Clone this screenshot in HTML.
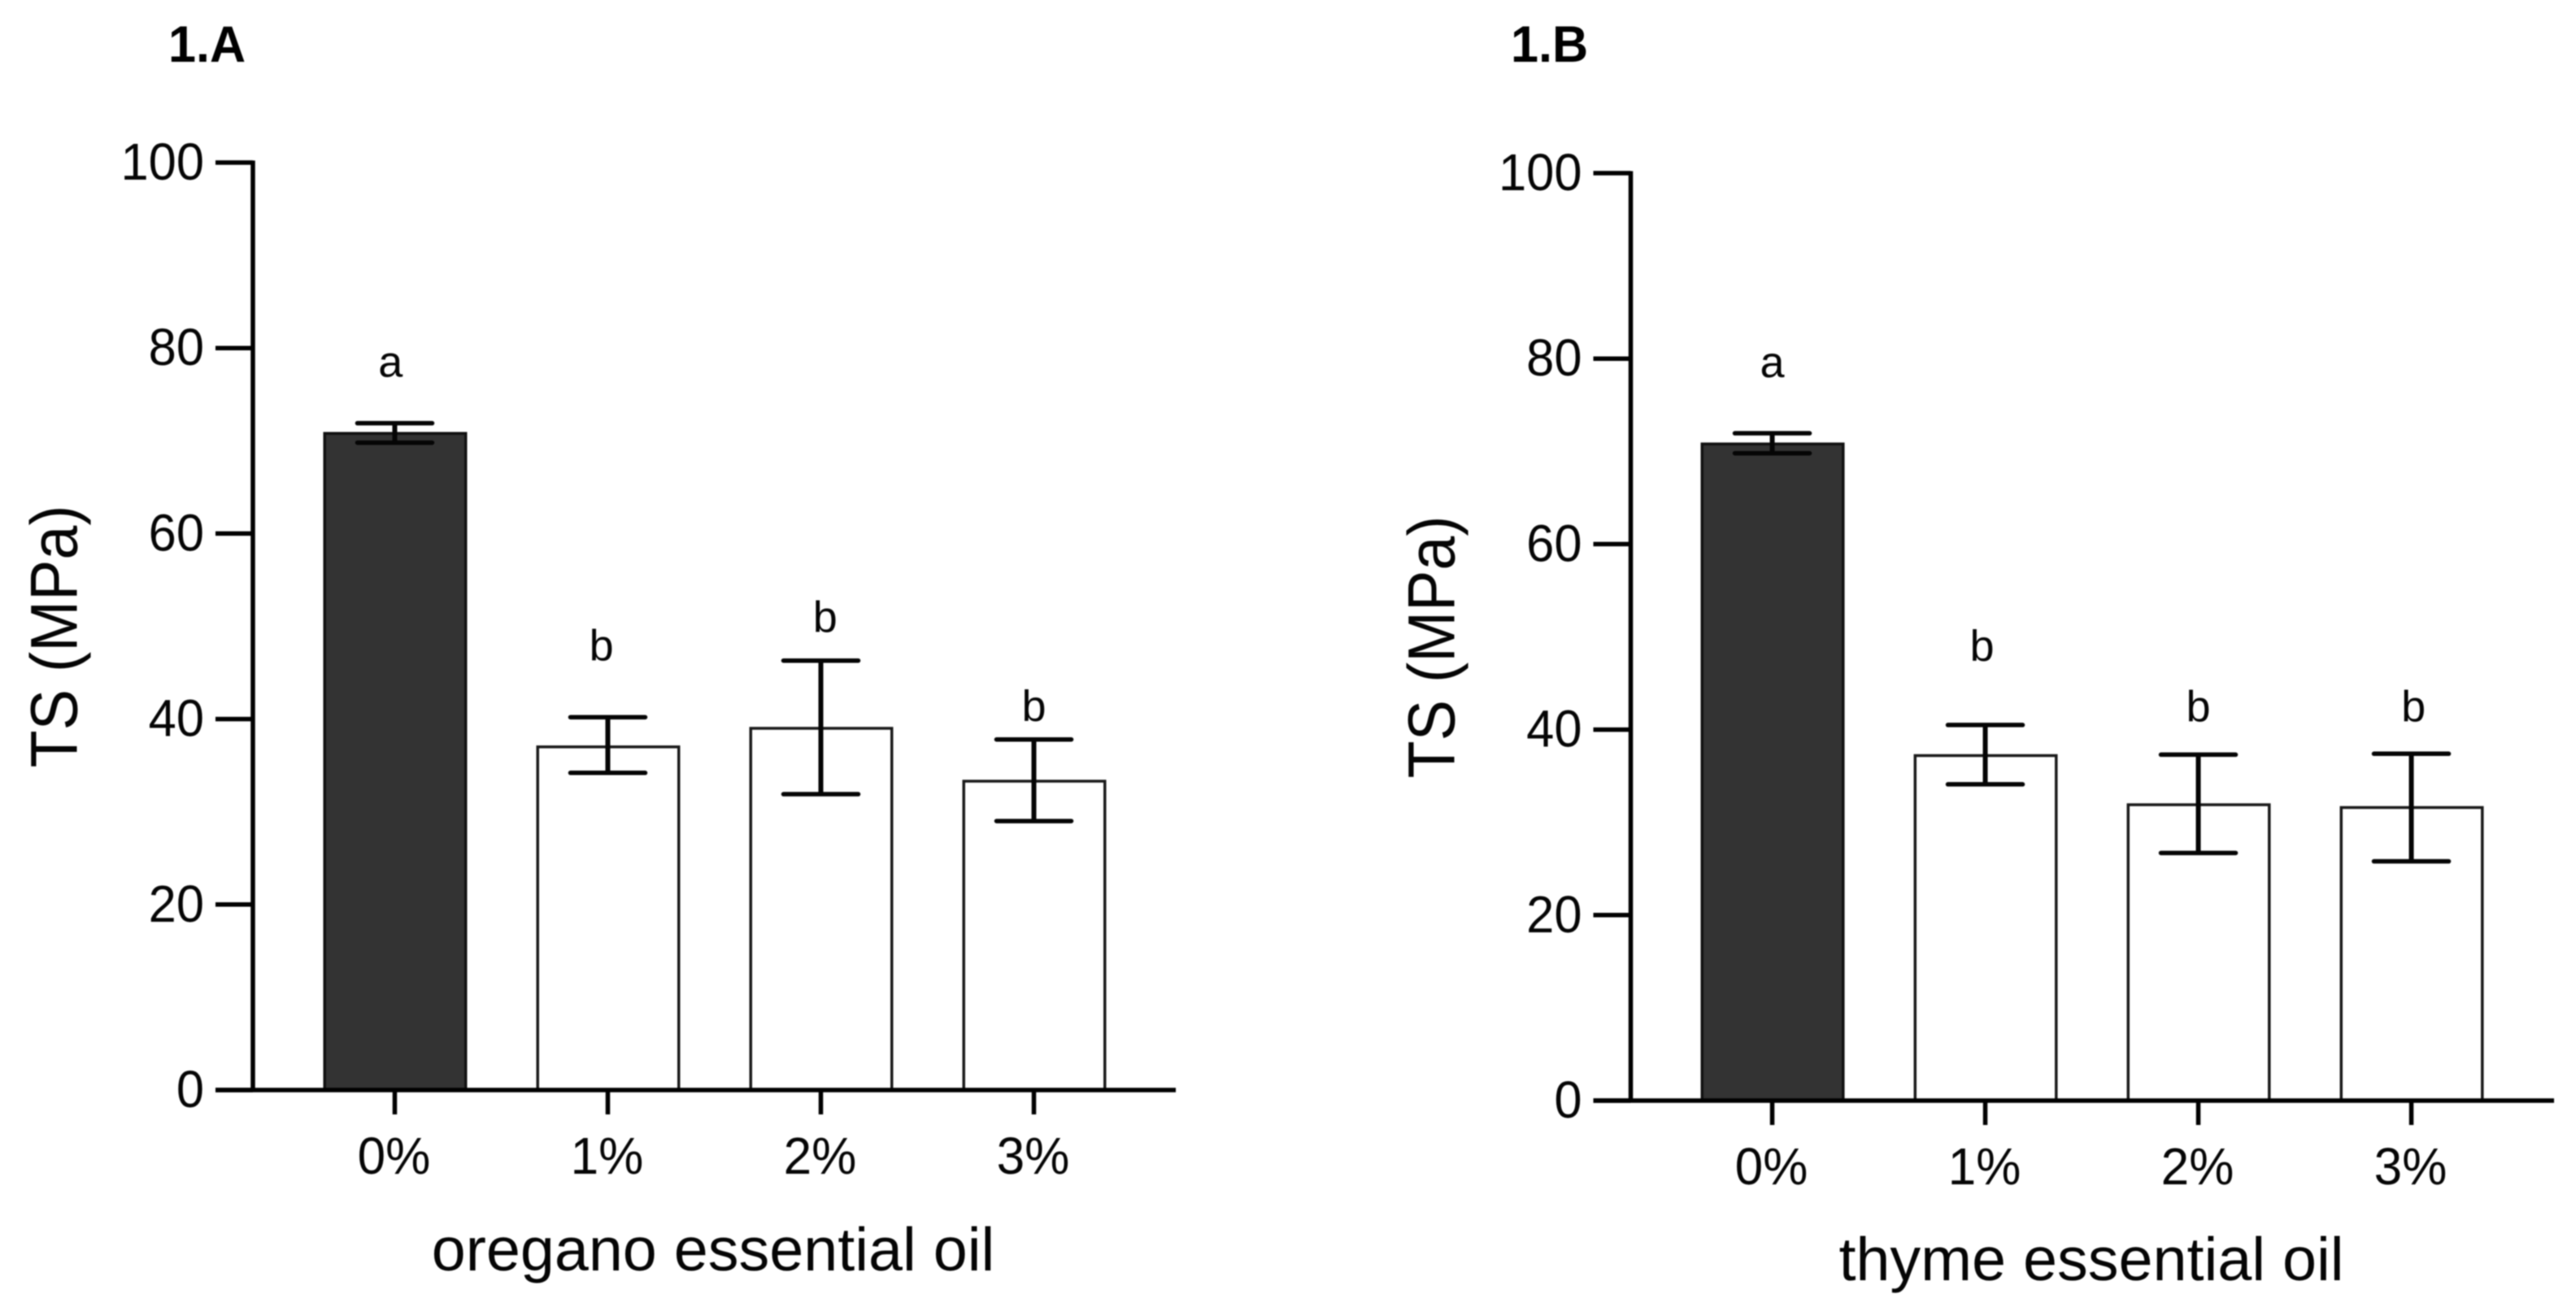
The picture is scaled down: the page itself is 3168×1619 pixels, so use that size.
<!DOCTYPE html>
<html lang="en">
<head>
<meta charset="utf-8">
<title>Tensile strength of films with oregano and thyme essential oil</title>
<style>
  html, body { margin: 0; padding: 0; background: #fff; }
  #figure { display: block; width: 3168px; height: 1619px; background: #fff; filter: blur(0.7px); }
  text { font-family: "Liberation Sans", Arial, sans-serif; fill: #050505; }
  .panel-title { font-size: 63px; font-weight: bold; fill: #000; }
  .axis-title { font-size: 75.5px; }
  .tick-label { font-size: 64px; }
  .sig-letter { font-size: 54px; text-anchor: middle; }
</style>
</head>
<body>
<svg id="figure" xmlns="http://www.w3.org/2000/svg" width="3168" height="1619" viewBox="0 0 3168 1619">
  <rect x="0" y="0" width="3168" height="1619" fill="#ffffff"/>

  <g id="panel-a">
    <text class="panel-title" transform="translate(207,76) scale(0.97,1)">1.A</text>
    <text class="axis-title" text-anchor="middle" transform="translate(94.5,783) rotate(-90) scale(1,1.08)">TS (MPa)</text>
    <text class="axis-title" text-anchor="middle" x="877" y="1563">oregano essential oil</text>
  </g>

  <g id="panel-b">
    <text class="panel-title" transform="translate(1858,76) scale(0.97,1)">1.B</text>
    <text class="axis-title" text-anchor="middle" transform="translate(1788.5,796) rotate(-90) scale(1,1.08)">TS (MPa)</text>
    <text class="axis-title" text-anchor="middle" x="2572" y="1575">thyme essential oil</text>
  </g>
</svg>

<script>
// ---- shared axis data ----
const categories = ['0%', '1%', '2%', '3%'];
const yTickValues = [0, 20, 40, 60, 80, 100];
const yTickLabels = ['0', '20', '40', '60', '80', '100'];

// ---- panel 1.A: oregano essential oil ----
const oreganoMeans = [70.8, 37.0, 39.0, 33.3];
const oreganoUpper = [71.9, 40.2, 46.3, 37.8];
const oreganoLower = [69.8, 34.2, 31.9, 29.0];
const oreganoLetters = ['a', 'b', 'b', 'b'];
const oreganoLetterLevels = [76.9, 46.3, 49.4, 39.8];
const oreganoLetterShift = [-0.02, -0.03, 0.02, 0];

// ---- panel 1.B: thyme essential oil ----
const thymeMeans = [70.8, 37.2, 31.9, 31.6];
const thymeUpper = [71.95, 40.5, 37.3, 37.4];
const thymeLower = [69.8, 34.1, 26.7, 25.8];
const thymeLetters = ['a', 'b', 'b', 'b'];
const thymeLetterLevels = [78.0, 47.4, 40.9, 40.9];
const thymeLetterShift = [0, -0.015, 0, 0.01];

const SVGNS = 'http://www.w3.org/2000/svg';

function makeEl(tag, attrs, parent) {
  const el = document.createElementNS(SVGNS, tag);
  Object.keys(attrs).forEach(function (k) { el.setAttribute(k, attrs[k]); });
  parent.appendChild(el);
  return el;
}

function drawPanel(cfg) {
  const root = document.getElementById(cfg.id);
  const y = function (v) { return cfg.yZero - v * cfg.yPerUnit; };
  const x = function (i) { return cfg.xFirst + i * cfg.xStep; };
  const BAR_W = 173.5;
  const CAP_HALF = 46;
  const TICK_LEN = 46;
  const XTICK_LEN = 30;
  const AXIS_W = 5.5;

  // bars
  cfg.means.forEach(function (v, i) {
    const bar = makeEl('rect', {
      x: x(i) + 0.5 - BAR_W / 2,
      y: y(v),
      width: BAR_W,
      height: y(0) - y(v),
      fill: i === 0 ? '#333333' : '#ffffff',
      stroke: i === 0 ? '#111111' : '#1a1a1a',
      'stroke-width': 3.5
    }, root);
    
    
  });

  // error bars
  cfg.means.forEach(function (v, i) {
    const group = makeEl('g', { stroke: '#050505', fill: 'none' }, root);
    
    
    makeEl('line', { x1: x(i), x2: x(i), y1: y(cfg.upper[i]), y2: y(cfg.lower[i]), 'stroke-width': 6 }, group);
    makeEl('line', { x1: x(i) - CAP_HALF, x2: x(i) + CAP_HALF, y1: y(cfg.upper[i]), y2: y(cfg.upper[i]), 'stroke-width': 5.5, 'stroke-linecap': 'round' }, group);
    makeEl('line', { x1: x(i) - CAP_HALF, x2: x(i) + CAP_HALF, y1: y(cfg.lower[i]), y2: y(cfg.lower[i]), 'stroke-width': 5.5, 'stroke-linecap': 'round' }, group);
  });

  // y axis line
  const yLine = makeEl('line', { x1: cfg.axisX, x2: cfg.axisX, y1: y(100) - 2.5, y2: y(0) + 2.5, stroke: '#000', 'stroke-width': AXIS_W }, root);
  
  

  // x axis line
  const xLine = makeEl('line', { x1: cfg.axisX - TICK_LEN, x2: cfg.axisRight, y1: y(0), y2: y(0), stroke: '#000', 'stroke-width': AXIS_W }, root);
  
  

  // y ticks
  yTickValues.forEach(function (v, i) {
    const tick = makeEl('line', { x1: cfg.axisX - TICK_LEN, x2: cfg.axisX, y1: y(v), y2: y(v), stroke: '#000', 'stroke-width': AXIS_W }, root);
    
    
    const label = makeEl('text', { class: 'tick-label', 'text-anchor': 'end', transform: 'translate(' + (cfg.axisX - 60) + ',' + (y(v) + 21) + ') scale(0.96,1)' }, root);
    
    
    label.textContent = yTickLabels[i];
  });

  // x ticks and category labels
  categories.forEach(function (c, i) {
    const tick = makeEl('line', { x1: x(i), x2: x(i), y1: y(0), y2: y(0) + XTICK_LEN, stroke: '#000', 'stroke-width': AXIS_W }, root);
    
    
    const label = makeEl('text', { class: 'tick-label', 'text-anchor': 'middle', transform: 'translate(' + (x(i) - 1) + ',' + (y(0) + 103) + ') scale(0.97,1)' }, root);
    
    
    label.textContent = c;
  });

  // significance letters
  cfg.letters.forEach(function (l, i) {
    const t = makeEl('text', { class: 'sig-letter', x: x(i + cfg.letterShift[i]), y: y(cfg.letterLevels[i]) }, root);
    
    
    t.textContent = l;
  });
}

drawPanel({
  id: 'panel-a', prefix: 'panel-a',
  yZero: 1341, yPerUnit: 11.41, xFirst: 485.5, xStep: 262, axisX: 311, axisRight: 1446,
  means: oreganoMeans, upper: oreganoUpper, lower: oreganoLower,
  letters: oreganoLetters, letterLevels: oreganoLetterLevels, letterShift: oreganoLetterShift
});

drawPanel({
  id: 'panel-b', prefix: 'panel-b',
  yZero: 1354, yPerUnit: 11.41, xFirst: 2179.5, xStep: 262, axisX: 2005.5, axisRight: 3141,
  means: thymeMeans, upper: thymeUpper, lower: thymeLower,
  letters: thymeLetters, letterLevels: thymeLetterLevels, letterShift: thymeLetterShift
});
</script>
</body>
</html>
